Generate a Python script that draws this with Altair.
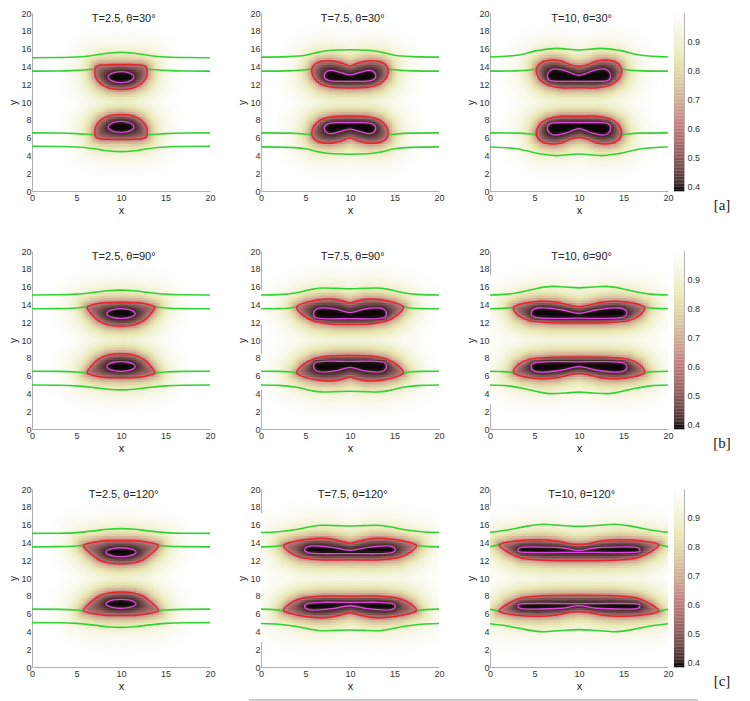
import numpy as np
import pandas as pd
import altair as alt

# ---------------- data ----------------
PANELS = ["a1", "a2", "a3", "b1", "b2", "b3", "c1", "c2", "c3"]
T_VALUES = ["2.5", "7.5", "10"]
THETA_VALUES = ["30", "90", "120"]
ROW_TAGS = ["[a]", "[b]", "[c]"]

# red contour of the lower drop, right half (x >= 10), from inner (top) centre
# clockwise to outer (bottom) centre; upper drop is its mirror image in y = 10
RED = {
    "a1": ([10, 11.3, 12.3, 12.85, 12.95, 12.8, 12.3, 11.1, 10],
           [8.6, 8.45, 7.95, 7.2, 6.5, 6.05, 5.85, 5.8, 5.8]),
    "a2": ([10, 12, 13.3, 14.05, 14.3, 14.1, 13.5, 12.3, 11, 10],
           [8.42, 8.35, 8.0, 7.3, 6.5, 5.9, 5.5, 5.37, 5.6, 5.95]),
    "a3": ([10, 12, 13.5, 14.4, 14.8, 14.6, 14, 13, 12, 11, 10],
           [8.4, 8.4, 8.1, 7.5, 6.6, 5.9, 5.45, 5.28, 5.4, 5.8, 6.0]),
    "b1": ([10, 11.5, 12.6, 13.4, 13.8, 13, 12, 10],
           [8.45, 8.3, 7.8, 7.0, 6.3, 6.0, 5.82, 5.75]),
    "b2": ([10, 12, 14, 15.3, 16, 15, 13.5, 11.8, 10.8, 10],
           [8.27, 8.22, 7.9, 7.2, 6.3, 5.8, 5.48, 5.42, 5.62, 5.84]),
    "b3": ([10, 13, 15.5, 16.8, 17.35, 16.3, 14.3, 12.5, 11, 10],
           [8.1, 8.07, 7.85, 7.25, 6.35, 5.9, 5.65, 5.75, 6.1, 6.25]),
    "c1": ([10, 11.5, 12.5, 13.5, 14.2, 12.8, 11.5, 10],
           [8.42, 8.3, 7.95, 7.2, 6.32, 5.95, 5.8, 5.78]),
    "c2": ([10, 13, 15.5, 16.8, 17.45, 16, 14, 12.5, 11, 10],
           [7.95, 7.97, 7.7, 7.1, 6.32, 5.85, 5.55, 5.55, 5.85, 6.1]),
    "c3": ([10, 14, 16.5, 18, 18.95, 17.2, 14.5, 12.5, 11, 10],
           [8.05, 8.0, 7.75, 7.1, 6.25, 5.85, 5.7, 5.85, 6.15, 6.22]),
}

# magenta contour of the lower drop, same convention
MAG = {
    "a1": ([10, 10.72, 11.25, 11.45, 11.25, 10.72, 10],
           [7.82, 7.74, 7.51, 7.2, 6.89, 6.66, 6.58]),
    "a2": ([10, 11.5, 12.5, 12.9, 12.6, 12.0, 11, 10],
           [7.68, 7.68, 7.55, 7.1, 6.55, 6.45, 6.7, 6.95]),
    "a3": ([10, 12, 13.2, 13.56, 13.3, 12.7, 11.5, 10],
           [7.68, 7.68, 7.6, 7.1, 6.5, 6.28, 6.5, 7.0]),
    "b1": ([10, 10.8, 11.39, 11.6, 11.39, 10.8, 10],
           [7.57, 7.5, 7.3, 7.02, 6.75, 6.55, 6.47]),
    "b2": ([10, 12.5, 13.8, 14.1, 13.8, 13, 11.5, 10],
           [7.6, 7.62, 7.5, 7.05, 6.55, 6.4, 6.55, 6.92]),
    "b3": ([10, 13, 14.9, 15.39, 15.0, 14, 12, 10],
           [7.55, 7.57, 7.45, 7.0, 6.5, 6.38, 6.6, 7.0]),
    "c1": ([10, 10.85, 11.47, 11.7, 11.47, 10.85, 10],
           [7.6, 7.53, 7.35, 7.1, 6.85, 6.67, 6.6]),
    "c2": ([10, 13, 14.7, 15.1, 14.8, 14, 12, 10],
           [7.25, 7.27, 7.15, 6.85, 6.5, 6.4, 6.55, 6.88]),
    "c3": ([10, 14, 16.5, 16.85, 16.5, 15, 12, 10],
           [7.12, 7.14, 7.1, 6.85, 6.55, 6.5, 6.6, 6.9]),
}

# outer green line below the drops, left half (x from 0 to 10)
GREEN_OUTER = {
    "a1": ([0, 3, 5, 7, 8.5, 10], [5.03, 5.0, 4.95, 4.75, 4.52, 4.42]),
    "a2": ([0, 3, 5, 6.5, 8, 10], [4.96, 4.9, 4.75, 4.4, 4.18, 4.13]),
    "a3": ([0, 3, 5.5, 7.5, 10], [4.94, 4.75, 4.2, 3.98, 4.15]),
    "b1": ([0, 3, 5, 7, 8.5, 10], [4.94, 4.92, 4.85, 4.65, 4.47, 4.4]),
    "b2": ([0, 2, 4, 5.5, 7, 8.5, 10], [4.94, 4.9, 4.7, 4.35, 4.15, 4.2, 4.25]),
    "b3": ([0, 2, 4, 5.5, 7, 8.5, 10], [4.94, 4.85, 4.5, 4.15, 3.97, 4.05, 4.14]),
    "c1": ([0, 3, 5, 7, 8.5, 10], [4.99, 4.97, 4.9, 4.7, 4.52, 4.45]),
    "c2": ([0, 2, 4, 5.5, 7, 8.5, 10], [4.88, 4.8, 4.55, 4.25, 4.08, 4.12, 4.16]),
    "c3": ([0, 2, 4, 6, 8, 10], [4.86, 4.6, 4.2, 3.96, 4.1, 4.2]),
}

# green line through the contact points, left piece (x from 0 to the drop)
GREEN_CONTACT = {
    "a1": ([0, 3, 5, 6.5, 7.1], [6.53, 6.52, 6.45, 6.35, 6.32]),
    "a2": ([0, 3, 5, 5.7], [6.53, 6.5, 6.38, 6.3]),
    "a3": ([0, 3, 4.5, 5.2], [6.53, 6.5, 6.4, 6.3]),
    "b1": ([0, 3, 5, 6.2], [6.49, 6.47, 6.4, 6.3]),
    "b2": ([0, 2, 3.3, 4.0], [6.49, 6.47, 6.4, 6.3]),
    "b3": ([0, 1.5, 2.65], [6.49, 6.45, 6.35]),
    "c1": ([0, 3, 5, 5.8], [6.5, 6.48, 6.4, 6.32]),
    "c2": ([0, 1.5, 2.55], [6.5, 6.45, 6.32]),
    "c3": ([0, 1.05], [6.49, 6.25]),
}

X_TICKS = [0, 5, 10, 15, 20]
Y_TICKS = [0, 2, 4, 6, 8, 10, 12, 14, 16, 18, 20]
CB_TICKS = [0.4, 0.5, 0.6, 0.7, 0.8, 0.9]
CB_RANGE = [0.385, 1.0]

# ---------------- styling ----------------
GREEN = "#33d133"
RED_C = "#e3262b"
MAG_C = "#e046e0"
FONT = "Liberation Sans"
W = 178
H = 178


def pink(t):
    rh = min(1.0, t * 8 / 3)
    gh = min(1.0, max(0.0, t * 8 / 3 - 1))
    bh = min(1.0, max(0.0, t * 4 - 3))
    r = np.sqrt((2 * t + rh) / 3)
    g = np.sqrt((2 * t + gh) / 3)
    b = np.sqrt((2 * t + bh) / 3)
    return "#%02x%02x%02x" % (int(round(r * 255)), int(round(g * 255)), int(round(b * 255)))


ts = np.linspace(0, 1, 25)
c_dom = [float(CB_RANGE[0] + (CB_RANGE[1] - CB_RANGE[0]) * t) for t in ts]
c_rng = [pink(float(t)) for t in ts]
cscale = alt.Scale(domain=c_dom, range=c_rng, interpolate="rgb", clamp=True)


# ---------------- geometry helpers ----------------
def closed_outline(xs, ys):
    xs, ys = list(xs), list(ys)
    lx = [20 - x for x in xs[-2:0:-1]]
    ly = ys[-2:0:-1]
    return xs + lx, ys + ly


def signed_dist(px, py, ox, oy):
    ax = np.array(ox, float)
    ay = np.array(oy, float)
    bx = np.roll(ax, -1)
    by = np.roll(ay, -1)
    dx, dy = bx - ax, by - ay
    t = ((px[:, None] - ax) * dx + (py[:, None] - ay) * dy) / (dx * dx + dy * dy)
    t = np.clip(t, 0, 1)
    cx = ax + t * dx
    cy = ay + t * dy
    d = np.hypot(px[:, None] - cx, py[:, None] - cy).min(axis=1)
    cond = ((ay > py[:, None]) != (by > py[:, None]))
    xint = ax + (py[:, None] - ay) * dx / np.where(dy == 0, 1e-12, dy)
    inside = (cond & (px[:, None] < xint)).sum(axis=1) % 2 == 1
    return np.where(inside, -d, d)


N = 72
CELL = 20.0 / N
gx, gy = np.meshgrid((np.arange(N) + 0.5) * CELL, (np.arange(N) + 0.5) * CELL)
px, py = gx.ravel(), gy.ravel()


def build_panel_data(key):
    rx, ry = closed_outline(*RED[key])
    mx, my = closed_outline(*MAG[key])
    reds = [(rx, ry), (rx, [20 - y for y in ry])]
    mags = [(mx, my), (mx, [20 - y for y in my])]
    sdr = np.min([signed_dist(px, py, a, b) for a, b in reds], axis=0)
    sdm = np.min([signed_dist(px, py, a, b) for a, b in mags], axis=0)
    v = np.empty_like(px)
    out = sdr > 0
    v[out] = 0.6 + 0.4 * (1 - np.exp(-sdr[out] / 1.1))
    mid = (~out) & (sdm > 0)
    a = -sdr[mid]
    b = sdm[mid]
    v[mid] = 0.41 + 0.19 * (b / (a + b + 1e-9)) ** 1.8
    inn = (~out) & (sdm <= 0)
    v[inn] = 0.41 - 0.02 * np.clip(-sdm[inn] / 0.3, 0, 1)
    keep = v < 0.992
    heat = pd.DataFrame({
        "x": np.round(px[keep] - CELL / 2, 3),
        "y": np.round(py[keep] - CELL / 2, 3),
        "v": np.round(v[keep], 3),
    })

    rows = []
    for gi, (ox, oy) in enumerate(reds):
        for i, (x, y) in enumerate(zip(ox, oy)):
            rows.append({"x": x, "y": y, "i": i, "g": f"r{gi}"})
    red_df = pd.DataFrame(rows)
    rows = []
    for gi, (ox, oy) in enumerate(mags):
        for i, (x, y) in enumerate(zip(ox, oy)):
            rows.append({"x": x, "y": y, "i": i, "g": f"m{gi}"})
    mag_df = pd.DataFrame(rows)

    rows = []
    ox, oy = GREEN_OUTER[key]
    fx = list(ox) + [20 - x for x in ox[-2::-1]]
    fy = list(oy) + list(oy[-2::-1])
    for i, (x, y) in enumerate(zip(fx, fy)):
        rows.append({"x": x, "y": y, "i": i, "g": "outer_low"})
        rows.append({"x": x, "y": 20 - y, "i": i, "g": "outer_up"})
    cx, cy = GREEN_CONTACT[key]
    for i, (x, y) in enumerate(zip(cx, cy)):
        rows.append({"x": x, "y": y, "i": i, "g": "cl_left"})
        rows.append({"x": 20 - x, "y": y, "i": -i, "g": "cl_right"})
        rows.append({"x": x, "y": 20 - y, "i": i, "g": "cu_left"})
        rows.append({"x": 20 - x, "y": 20 - y, "i": -i, "g": "cu_right"})
    green_df = pd.DataFrame(rows)
    return heat, red_df, mag_df, green_df


OV = 0.1


def panel(key, title):
    heat, red_df, mag_df, green_df = build_panel_data(key)
    xs = alt.X("x:Q", scale=alt.Scale(domain=[0, 20], nice=False, zero=False),
               axis=alt.Axis(values=X_TICKS, title="x", labelOverlap=False, labelFlush=False))
    ys = alt.Y("y:Q", scale=alt.Scale(domain=[0, 20], nice=False, zero=False),
               axis=alt.Axis(values=Y_TICKS, title="y", titlePadding=2, labelPadding=1,
                             titleFontSize=10, labelOverlap=False, labelFlush=False,
                             labelSeparation=0))
    hm = alt.Chart(heat).transform_calculate(
        x2=f"datum.x + {CELL + OV}", y2=f"datum.y + {CELL + OV}"
    ).mark_rect(clip=True).encode(
        x=xs, x2="x2:Q", y=ys, y2="y2:Q",
        color=alt.Color("v:Q", scale=cscale, legend=None),
    )
    gl = alt.Chart(green_df).mark_line(color=GREEN, strokeWidth=1.6, interpolate="monotone").encode(
        x=xs, y=ys, detail="g:N", order="i:Q")
    rl = alt.Chart(red_df).mark_line(color=RED_C, strokeWidth=1.5, interpolate="cardinal-closed").encode(
        x=xs, y=ys, detail="g:N", order="i:Q")
    ml = alt.Chart(mag_df).mark_line(color=MAG_C, strokeWidth=1.3, interpolate="cardinal-closed").encode(
        x=xs, y=ys, detail="g:N", order="i:Q")
    tt = alt.Chart(pd.DataFrame({"x": [10.3], "y": [19.35], "t": [title]})).mark_text(
        font=FONT, fontSize=11, color="#222").encode(x=xs, y=ys, text="t:N")
    return alt.layer(hm, gl, rl, ml, tt).properties(width=W, height=H)


def colorbar(tag):
    cb_df = pd.DataFrame({"v": np.round(np.arange(CB_RANGE[0], CB_RANGE[1], 0.005), 4)})
    cb = alt.Chart(cb_df).transform_calculate(
        v2="datum.v + 0.0056", vc="datum.v + 0.0025"
    ).mark_rect(clip=True).encode(
        x=alt.value(0), x2=alt.value(10),
        y=alt.Y("v:Q", scale=alt.Scale(domain=CB_RANGE, nice=False, zero=False),
                axis=alt.Axis(orient="right", values=CB_TICKS, format=".1f", title=None,
                              domain=False, labelPadding=3, labelOverlap=False, labelFlush=False)),
        y2="v2:Q",
        color=alt.Color("vc:Q", scale=cscale, legend=None),
    )
    lab = alt.Chart(pd.DataFrame({"t": [tag]})).mark_text(
        font="Liberation Serif", fontSize=15, color="#222").encode(
        text="t:N", x=alt.value(48), y=alt.value(H + 14))
    return alt.layer(cb, lab).properties(
        width=10, height=H, view=alt.ViewBackground(stroke="#b5b5b5", strokeWidth=1))


rows = []
for r in range(3):
    panels = []
    for c in range(3):
        key = PANELS[r * 3 + c]
        title = f"T={T_VALUES[c]}, θ={THETA_VALUES[r]}°"
        panels.append(panel(key, title))
    inner = alt.hconcat(*panels, spacing=21)
    rows.append(alt.hconcat(inner, colorbar(ROW_TAGS[r]), spacing=-6))

rule_row = alt.Chart(pd.DataFrame({"k": [0]})).mark_rule(color="#9a9a9a", strokeWidth=1).encode(
    x=alt.value(217), x2=alt.value(666), y=alt.value(7)
).properties(width=660, height=8)

grid = alt.vconcat(*rows, spacing=30)
chart = alt.vconcat(grid, rule_row, spacing=0).properties(
    padding=0, background="white"
).configure_view(stroke="transparent").configure_axis(
    labelFont=FONT, labelFontSize=9, labelColor="#333",
    titleFont=FONT, titleFontSize=11, titleFontWeight="normal", titleColor="#222",
    domainColor="#b0b0b0", grid=False, ticks=False, labelPadding=2, titlePadding=2,
    labelFlush=False, labelOverlap=False,
)

chart.save("out.html", embed_options={"renderer": "svg", "actions": False})
